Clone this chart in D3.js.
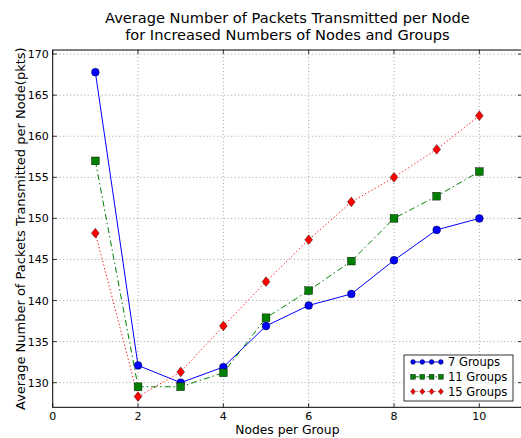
<!DOCTYPE html>
<html>
<head>
<meta charset="utf-8">
<script src="https://cdn.jsdelivr.net/npm/d3@7"></script>
<style>
html,body{margin:0;padding:0;background:#fff;}
svg{display:block;font-family:"DejaVu Sans",sans-serif;}
</style>
</head>
<body>
<svg id="chart" width="521" height="438"></svg>
<script>
const nodes = [1,2,3,4,5,6,7,8,9,10];
const groups7  = [167.8,132.1,130.0,131.9,136.9,139.4,140.8,144.9,148.6,150.0];
const groups11 = [157.0,129.5,129.5,131.2,137.9,141.2,144.8,150.0,152.7,155.7];
const groups15 = [148.2,128.3,131.3,136.9,142.3,147.4,152.0,155.0,158.4,162.5];
const xTicks = [0,2,4,6,8,10];
const yTicks = [130,135,140,145,150,155,160,165,170];
const seriesNames = ["7 Groups","11 Groups","15 Groups"];

const svg = d3.select("#chart");
const L = 52.7, R = 522, T = 50, B = 407.3;
const x = d3.scaleLinear().domain([0,11]).range([L,R]);
const y = d3.scaleLinear().domain([127,170.5]).range([B,T]);

// grid
const g = svg.append("g");
g.selectAll(".vg").data(xTicks.filter(d=>d>0)).join("line")
  .attr("x1",d=>x(d)).attr("x2",d=>x(d)).attr("y1",T).attr("y2",B)
  .attr("stroke","#666").attr("stroke-width",0.6).attr("stroke-dasharray","1,2.5");
g.selectAll(".hg").data(yTicks).join("line")
  .attr("x1",L).attr("x2",R).attr("y1",d=>y(d)).attr("y2",d=>y(d))
  .attr("stroke","#666").attr("stroke-width",0.6).attr("stroke-dasharray","1,2.5");

const series = [
  {name:seriesNames[0], vals:groups7, color:"#0000ff", dash:null, marker:"circle"},
  {name:seriesNames[1], vals:groups11, color:"#007f00", dash:"6,3,1.5,3", marker:"square"},
  {name:seriesNames[2], vals:groups15, color:"#ff0000", dash:"1.2,2.4", marker:"diamond"}
];

function drawMarker(sel, type, color, cx, cy, s){
  if(type==="circle"){
    sel.append("circle").attr("cx",cx).attr("cy",cy).attr("r",s)
      .attr("fill",color).attr("stroke","#000").attr("stroke-width",0.4);
  } else if(type==="square"){
    sel.append("rect").attr("x",cx-s).attr("y",cy-s).attr("width",2*s).attr("height",2*s)
      .attr("fill",color).attr("stroke","#000").attr("stroke-width",0.4);
  } else {
    const d = s*1.25;
    sel.append("path").attr("d",`M${cx},${cy-d}L${cx+d*0.8},${cy}L${cx},${cy+d}L${cx-d*0.8},${cy}Z`)
      .attr("fill",color).attr("stroke","#000").attr("stroke-width",0.4);
  }
}

const line = d3.line().x((d,i)=>x(nodes[i])).y(d=>y(d));
series.forEach(s=>{
  const p = svg.append("path").datum(s.vals).attr("d",line)
    .attr("fill","none").attr("stroke",s.color).attr("stroke-width",1);
  if(s.dash) p.attr("stroke-dasharray",s.dash);
});
series.forEach(s=>{
  const mg = svg.append("g");
  s.vals.forEach((v,i)=>drawMarker(mg,s.marker,s.color,x(nodes[i]),y(v),3.9));
});

// frame
svg.append("rect").attr("x",L).attr("y",T).attr("width",R-L).attr("height",B-T)
  .attr("fill","none").attr("stroke","#000").attr("stroke-width",1);

// ticks (inside, all sides)
const tk = svg.append("g").attr("stroke","#000").attr("stroke-width",0.8);
xTicks.forEach(d=>{
  tk.append("line").attr("x1",x(d)).attr("x2",x(d)).attr("y1",B).attr("y2",B-4);
  tk.append("line").attr("x1",x(d)).attr("x2",x(d)).attr("y1",T).attr("y2",T+4);
});
yTicks.forEach(d=>{
  tk.append("line").attr("x1",L).attr("x2",L+4).attr("y1",y(d)).attr("y2",y(d));
  tk.append("line").attr("x1",R).attr("x2",R-4).attr("y1",y(d)).attr("y2",y(d));
});

// tick labels
svg.append("g").selectAll("text").data(xTicks).join("text")
  .attr("x",d=>x(d)).attr("y",B+13).attr("text-anchor","middle")
  .attr("font-size",11).text(d=>d);
svg.append("g").selectAll("text").data(yTicks).join("text")
  .attr("x",L-4).attr("y",d=>y(d)+4).attr("text-anchor","end")
  .attr("font-size",11).text(d=>d);

// titles
const cx = (L+R)/2;
svg.append("text").attr("x",cx).attr("y",22.5).attr("text-anchor","middle").attr("font-size",14.6)
  .text("Average Number of Packets Transmitted per Node");
svg.append("text").attr("x",cx).attr("y",39.5).attr("text-anchor","middle").attr("font-size",14.6)
  .text("for Increased Numbers of Nodes and Groups");
svg.append("text").attr("x",cx).attr("y",434).attr("text-anchor","middle").attr("font-size",12.3)
  .text("Nodes per Group");
svg.append("text").attr("transform",`translate(25,${(T+B)/2}) rotate(-90)`)
  .attr("text-anchor","middle").attr("font-size",13)
  .text("Average Number of Packets Transmitted per Node(pkts)");

// legend
const lg = svg.append("g");
lg.append("rect").attr("x",404).attr("y",355).attr("width",109).attr("height",46)
  .attr("fill","#fff").attr("stroke","#000").attr("stroke-width",0.8);
series.forEach((s,i)=>{
  const ly = 362 + i*14.8;
  const l = lg.append("line").attr("x1",413).attr("x2",441).attr("y1",ly).attr("y2",ly)
    .attr("stroke",s.color).attr("stroke-width",1);
  if(s.dash) l.attr("stroke-dasharray",s.dash);
  [0,1,2,3].forEach(k=>drawMarker(lg,s.marker,s.color,413+k*9.3,ly,2.4));
  lg.append("text").attr("x",448).attr("y",ly+4).attr("font-size",11.5).text(s.name);
});
</script>
</body>
</html>
